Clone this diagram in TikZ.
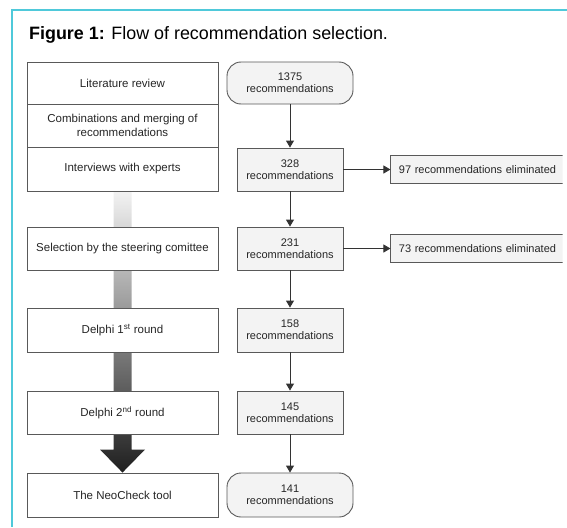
\documentclass[tikz,border=0pt]{standalone}
\usepackage{fontspec}
\setmainfont{Liberation Sans}
\usetikzlibrary{arrows.meta, positioning, calc, backgrounds}
\definecolor{framecyan}{HTML}{4FC9DA}
\definecolor{boxgray}{HTML}{F3F3F3}

\begin{document}
\begin{tikzpicture}[x=1pt, y=-1pt,
    stage/.style={rectangle, draw=black!65, fill=white, line width=0.9pt, minimum width=191pt, minimum height=43pt, font=\fontsize{11.5}{13.5}\selectfont, text=black!85, align=center, inner sep=2pt},
    count/.style={rectangle, draw=black!65, fill=boxgray, line width=0.9pt, minimum width=106pt, minimum height=43pt, font=\fontsize{11}{12}\selectfont, text=black!85, align=center, inner sep=2pt},
    terminal/.style={count, rounded corners=14pt, minimum width=126pt},
    dropped/.style={count, minimum width=176pt, minimum height=28pt, text width=160pt, align=left},
    edge/.style={-{Triangle[length=7pt, width=8pt]}, black!80, line width=0.9pt},
    title/.style={font=\fontsize{17.9}{20}\selectfont, text=black, anchor=base west, inner sep=0pt},
]

\useasboundingbox (0,0) rectangle (567,527);

% === FRAME + TITLE ===
\draw[framecyan, line width=1.5pt] (567,10) -- (12,10) -- (12,527);
\node[title] (title) at (29,40) {\textbf{Figure 1:} Flow of recommendation selection.};

% === STAGES (left column) ===
\node[stage, minimum height=42pt] (s1) at (122.5,83) {Literature review};
\node[stage] (s2) at (122.5,125.5) {Combinations and merging of\\recommendations};
\node[stage, minimum height=44pt] (s3) at (122.5,169) {Interviews with experts};
\node[stage] (s4) at (122.5,248.5) {Selection by the steering comittee};
\node[stage, minimum height=44pt] (s5) at (122.5,330) {Delphi 1\textsuperscript{st} round};
\node[stage] (s6) at (122.5,412.5) {Delphi 2\textsuperscript{nd} round};
\node[stage, minimum height=44pt] (s7) at (122.5,495) {The NeoCheck tool};

% === COUNTS (right column) ===
\node[terminal, minimum height=42pt] (c1375) at (290,83) {1375\\recommendations};
\node[count] (c328) at (290,169.5) {328\\recommendations};
\node[count] (c231) at (290,248.5) {231\\recommendations};
\node[count, minimum height=44pt] (c158) at (290,330) {158\\recommendations};
\node[count] (c145) at (290,412.5) {145\\recommendations};
\node[terminal, minimum height=44pt] (c141) at (290,495) {141\\recommendations};

% === ELIMINATED (cut at the right edge) ===
\begin{scope}
\clip (380,140) rectangle (562.5,280);
\node[dropped, right=47pt of c328] (d97) {97 recommendations eliminated};
\node[dropped, right=47pt of c231] (d73) {73 recommendations eliminated};
\end{scope}

% === EDGES ===
\draw[edge] (c1375) -- (c328);
\draw[edge] (c328) -- (c231);
\draw[edge] (c231) -- (c158);
\draw[edge] (c158) -- (c145);
\draw[edge] (c145) -- (c141);
\draw[edge] (c328) -- (d97);
\draw[edge] (c231) -- (d73);

% === SHADED PROGRESS ARROW (behind the stages) ===
\begin{scope}[on background layer]
\shade[top color=black!5, bottom color=black!88]
    ($(s3.south)+(-9,0)$) -- ($(s3.south)+(9,0)$) -- ($(s7.north)+(9,-23)$)
    -- ($(s7.north)+(22.5,-23)$) -- (s7.north) -- ($(s7.north)+(-22.5,-23)$)
    -- ($(s7.north)+(-9,-23)$) -- cycle;
\end{scope}

\end{tikzpicture}
\end{document}
